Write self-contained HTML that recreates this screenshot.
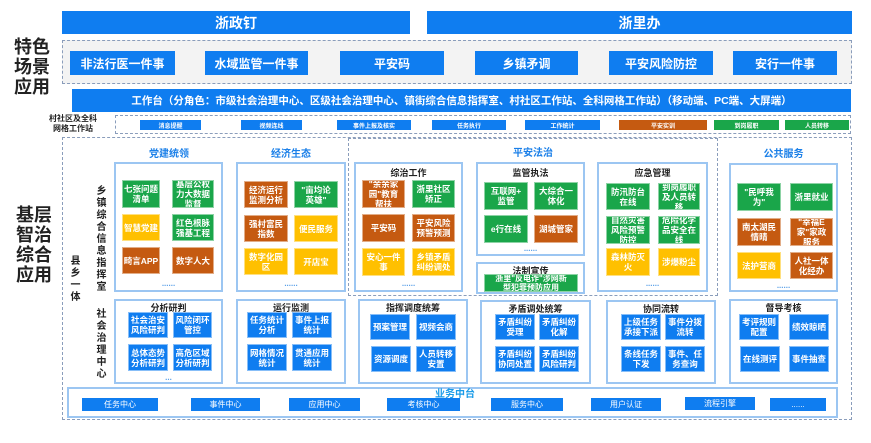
<!DOCTYPE html>
<html><head><meta charset="utf-8">
<style>
*{margin:0;padding:0;box-sizing:border-box}
body{width:871px;height:443px;background:#fff;position:relative;overflow:hidden;font-family:"Liberation Sans","Noto Sans CJK SC",sans-serif;font-weight:bold}
div{position:absolute}
.bl{background:#0f7df0;color:#fff;display:flex;align-items:center;justify-content:center;text-align:center}
.i{color:#fff;display:flex;align-items:center;justify-content:center;text-align:center;font-size:8.5px;line-height:10px;border:1px solid rgba(255,255,255,.5);overflow:hidden}
.g{background:#1aa64a}.y{background:#ffc000}.o{background:#c55a11}.u{background:#0f7df0}
.bx{border:2px solid #9cc6f2;background:#fff}
.t{font-size:9px;color:#222;text-align:center;white-space:nowrap}
.dots{font-size:8px;color:#5aa0e8;text-align:center}
.dash{border:1.5px dashed #8a9dbb}
.vt{writing-mode:vertical-rl;font-size:10px;color:#222;letter-spacing:2px}
.big{font-size:18px;color:#222;line-height:20px;text-align:center;width:44px}
</style></head><body>

<div class="bl" style="left:62px;top:11px;width:348px;height:23px;font-size:14px">浙政钉</div>
<div class="bl" style="left:427px;top:11px;width:425px;height:23px;font-size:14px">浙里办</div>

<div class="big" style="left:10px;top:37px">特色<br>场景<br>应用</div>
<div class="dash" style="left:62px;top:40px;width:790px;height:44px;background:#f3f3f3"></div>
<div class="bl" style="left:70px;top:51px;width:105px;height:24px;font-size:12px">非法行医一件事</div>
<div class="bl" style="left:205px;top:51px;width:103px;height:24px;font-size:12px">水域监管一件事</div>
<div class="bl" style="left:340px;top:51px;width:104px;height:24px;font-size:12px">平安码</div>
<div class="bl" style="left:475px;top:51px;width:103px;height:24px;font-size:12px">乡镇矛调</div>
<div class="bl" style="left:609px;top:51px;width:104px;height:24px;font-size:12px">平安风险防控</div>
<div class="bl" style="left:733px;top:51px;width:104px;height:24px;font-size:12px">安行一件事</div>

<div class="bl" style="left:72px;top:89px;width:779px;height:23px;font-size:10.5px">工作台（分角色：市级社会治理中心、区级社会治理中心、镇街综合信息指挥室、村社区工作站、全科网格工作站）（移动端、PC端、大屏端）</div>

<div class="t" style="left:36px;top:114px;width:74px;font-size:8px;line-height:10px">村社区及全科<br>网格工作站</div>
<div class="dash" style="left:115px;top:115px;width:736px;height:19px"></div>
<div class="bl" style="left:140px;top:120px;width:61px;height:10px;font-size:6px">消息提醒</div>
<div class="bl" style="left:241px;top:120px;width:61px;height:10px;font-size:6px">视频连线</div>
<div class="bl" style="left:337px;top:120px;width:74px;height:10px;font-size:6px">事件上报及核实</div>
<div class="bl" style="left:432px;top:120px;width:74px;height:10px;font-size:6px">任务执行</div>
<div class="bl" style="left:525px;top:120px;width:75px;height:10px;font-size:6px">工作统计</div>
<div class="bl o" style="left:619px;top:120px;width:88px;height:10px;font-size:6px">平安实训</div>
<div class="bl g" style="left:714px;top:120px;width:65px;height:10px;font-size:6px">到岗履职</div>
<div class="bl g" style="left:785px;top:120px;width:64px;height:10px;font-size:6px">人员转移</div>

<div class="dash" style="left:62px;top:137px;width:790px;height:283px"></div>
<div class="big" style="left:12px;top:205px">基层<br>智治<br>综合<br>应用</div>
<div class="vt" style="left:92px;top:185px">乡镇综合信息指挥室</div>
<div class="vt" style="left:66px;top:255px">县乡一体</div>
<div class="vt" style="left:92px;top:308px">社会治理中心</div>

<div class="t" style="left:114px;top:145px;width:110px;color:#1a7fe8;font-size:10px">党建统领</div>
<div class="bx" style="left:114px;top:162px;width:109px;height:130px"></div>
<div class="i g" style="left:122px;top:180px;width:38px;height:28px">七张问题<br>清单</div>
<div class="i g" style="left:172px;top:180px;width:42px;height:28px">基层公权<br>力大数据<br>监督</div>
<div class="i y" style="left:122px;top:214px;width:38px;height:27px">智慧党建</div>
<div class="i g" style="left:172px;top:214px;width:42px;height:27px">红色根脉<br>强基工程</div>
<div class="i o" style="left:122px;top:247px;width:38px;height:27px">畸言APP</div>
<div class="i o" style="left:172px;top:247px;width:42px;height:27px">数字人大</div>
<div class="dots" style="left:114px;top:279px;width:109px">......</div>

<div class="t" style="left:236px;top:145px;width:110px;color:#1a7fe8;font-size:10px">经济生态</div>
<div class="bx" style="left:236px;top:162px;width:110px;height:130px"></div>
<div class="i o" style="left:244px;top:181px;width:44px;height:27px">经济运行<br>监测分析</div>
<div class="i g" style="left:294px;top:181px;width:44px;height:27px">"亩均论<br>英雄"</div>
<div class="i o" style="left:244px;top:215px;width:44px;height:27px">强村富民<br>指数</div>
<div class="i y" style="left:294px;top:215px;width:44px;height:27px">便民服务</div>
<div class="i y" style="left:244px;top:248px;width:44px;height:27px">数字化园<br>区</div>
<div class="i y" style="left:294px;top:248px;width:44px;height:27px">开店宝</div>
<div class="dots" style="left:236px;top:279px;width:110px">......</div>

<div class="dash" style="left:348px;top:138px;width:370px;height:158px"></div>
<div class="t" style="left:348px;top:144px;width:370px;color:#1a7fe8;font-size:10px">平安法治</div>
<div class="bx" style="left:354px;top:162px;width:109px;height:130px"></div>
<div class="t" style="left:354px;top:166px;width:109px">综治工作</div>
<div class="i o" style="left:362px;top:180px;width:43px;height:28px">"余余家<br>园"教育<br>帮扶</div>
<div class="i g" style="left:412px;top:180px;width:43px;height:28px">浙里社区<br>矫正</div>
<div class="i o" style="left:362px;top:214px;width:43px;height:28px">平安码</div>
<div class="i o" style="left:412px;top:214px;width:43px;height:28px">平安风险<br>预警预测</div>
<div class="i y" style="left:362px;top:248px;width:43px;height:28px">安心一件<br>事</div>
<div class="i y" style="left:412px;top:248px;width:43px;height:28px">乡镇矛盾<br>纠纷调处</div>
<div class="dots" style="left:354px;top:279px;width:109px">......</div>

<div class="bx" style="left:476px;top:162px;width:109px;height:94px"></div>
<div class="t" style="left:476px;top:166px;width:109px">监管执法</div>
<div class="i g" style="left:484px;top:182px;width:44px;height:28px">互联网+<br>监管</div>
<div class="i g" style="left:534px;top:182px;width:44px;height:28px">大综合一<br>体化</div>
<div class="i g" style="left:484px;top:215px;width:44px;height:28px">e行在线</div>
<div class="i o" style="left:534px;top:215px;width:44px;height:28px">湖城管家</div>
<div class="dots" style="left:476px;top:244px;width:109px">......</div>

<div class="bx" style="left:476px;top:262px;width:109px;height:32px"></div>
<div class="t" style="left:476px;top:264px;width:109px">法制宣传</div>
<div class="i g" style="left:484px;top:274px;width:94px;height:18px;font-size:8px;line-height:9px">浙里"反电诈"涉网新<br>型犯罪预防应用</div>

<div class="bx" style="left:597px;top:162px;width:111px;height:130px"></div>
<div class="t" style="left:597px;top:166px;width:111px">应急管理</div>
<div class="i g" style="left:606px;top:183px;width:44px;height:27px">防汛防台<br>在线</div>
<div class="i g" style="left:658px;top:183px;width:42px;height:27px">到岗履职<br>及人员转<br>移</div>
<div class="i g" style="left:606px;top:216px;width:44px;height:28px">自然灾害<br>风险预警<br>防控</div>
<div class="i g" style="left:658px;top:216px;width:42px;height:28px">危险化学<br>品安全在<br>线</div>
<div class="i y" style="left:606px;top:248px;width:44px;height:28px">森林防灭<br>火</div>
<div class="i y" style="left:658px;top:248px;width:42px;height:28px">涉爆粉尘</div>
<div class="dots" style="left:597px;top:279px;width:111px">......</div>

<div class="t" style="left:729px;top:145px;width:109px;color:#1a7fe8;font-size:10px">公共服务</div>
<div class="bx" style="left:729px;top:163px;width:109px;height:129px"></div>
<div class="i g" style="left:737px;top:183px;width:44px;height:28px">"民呼我<br>为"</div>
<div class="i g" style="left:790px;top:183px;width:43px;height:28px">浙里就业</div>
<div class="i o" style="left:737px;top:218px;width:44px;height:28px">南太湖民<br>情晴</div>
<div class="i o" style="left:790px;top:218px;width:43px;height:28px">"幸福E<br>家"家政<br>服务</div>
<div class="i y" style="left:737px;top:252px;width:44px;height:27px">法护营商</div>
<div class="i o" style="left:790px;top:252px;width:43px;height:27px">人社一体<br>化经办</div>
<div class="dots" style="left:729px;top:281px;width:109px">......</div>

<div class="bx" style="left:114px;top:299px;width:109px;height:85px"></div>
<div class="t" style="left:114px;top:301px;width:109px">分析研判</div>
<div class="i u" style="left:128px;top:312px;width:40px;height:26px">社会治安<br>风险研判</div>
<div class="i u" style="left:173px;top:312px;width:39px;height:26px">风险闭环<br>管控</div>
<div class="i u" style="left:128px;top:344px;width:40px;height:27px">总体态势<br>分析研判</div>
<div class="i u" style="left:173px;top:344px;width:39px;height:27px">高危区域<br>分析研判</div>
<div class="dots" style="left:114px;top:373px;width:109px">...</div>

<div class="bx" style="left:236px;top:299px;width:110px;height:85px"></div>
<div class="t" style="left:236px;top:301px;width:110px">运行监测</div>
<div class="i u" style="left:247px;top:312px;width:40px;height:26px">任务统计<br>分析</div>
<div class="i u" style="left:292px;top:312px;width:40px;height:26px">事件上报<br>统计</div>
<div class="i u" style="left:247px;top:344px;width:40px;height:27px">网格情况<br>统计</div>
<div class="i u" style="left:292px;top:344px;width:40px;height:27px">贯通应用<br>统计</div>

<div class="bx" style="left:358px;top:299px;width:110px;height:85px"></div>
<div class="t" style="left:358px;top:301px;width:110px">指挥调度统筹</div>
<div class="i u" style="left:370px;top:314px;width:40px;height:26px">预案管理</div>
<div class="i u" style="left:416px;top:314px;width:40px;height:26px">视频会商</div>
<div class="i u" style="left:371px;top:346px;width:40px;height:26px">资源调度</div>
<div class="i u" style="left:416px;top:346px;width:40px;height:26px">人员转移<br>安置</div>

<div class="bx" style="left:480px;top:300px;width:111px;height:84px"></div>
<div class="t" style="left:480px;top:302px;width:111px">矛盾调处统筹</div>
<div class="i u" style="left:495px;top:314px;width:40px;height:26px">矛盾纠纷<br>受理</div>
<div class="i u" style="left:539px;top:314px;width:40px;height:26px">矛盾纠纷<br>化解</div>
<div class="i u" style="left:495px;top:346px;width:40px;height:26px">矛盾纠纷<br>协同处置</div>
<div class="i u" style="left:539px;top:346px;width:40px;height:26px">矛盾纠纷<br>风险研判</div>

<div class="bx" style="left:606px;top:300px;width:110px;height:84px"></div>
<div class="t" style="left:606px;top:302px;width:110px">协同流转</div>
<div class="i u" style="left:621px;top:314px;width:40px;height:26px">上级任务<br>承接下派</div>
<div class="i u" style="left:665px;top:314px;width:40px;height:26px">事件分拨<br>流转</div>
<div class="i u" style="left:621px;top:346px;width:40px;height:26px">条线任务<br>下发</div>
<div class="i u" style="left:665px;top:346px;width:40px;height:26px">事件、任<br>务查询</div>

<div class="bx" style="left:729px;top:299px;width:109px;height:85px"></div>
<div class="t" style="left:729px;top:301px;width:109px">督导考核</div>
<div class="i u" style="left:739px;top:314px;width:40px;height:26px">考评规则<br>配置</div>
<div class="i u" style="left:789px;top:314px;width:40px;height:26px">绩效晾晒</div>
<div class="i u" style="left:740px;top:346px;width:40px;height:26px">在线测评</div>
<div class="i u" style="left:789px;top:346px;width:40px;height:26px">事件抽查</div>

<div class="bx" style="left:67px;top:387px;width:771px;height:31px"></div>
<div class="t" style="left:425px;top:385px;width:60px;color:#1a9be8;font-size:10px">业务中台</div>
<div class="bl" style="left:82px;top:398px;width:76px;height:13px;font-size:8px;font-weight:normal">任务中心</div>
<div class="bl" style="left:191px;top:398px;width:69px;height:13px;font-size:8px;font-weight:normal">事件中心</div>
<div class="bl" style="left:289px;top:398px;width:71px;height:13px;font-size:8px;font-weight:normal">应用中心</div>
<div class="bl" style="left:387px;top:398px;width:73px;height:13px;font-size:8px;font-weight:normal">考核中心</div>
<div class="bl" style="left:491px;top:398px;width:72px;height:13px;font-size:8px;font-weight:normal">服务中心</div>
<div class="bl" style="left:591px;top:398px;width:70px;height:13px;font-size:8px;font-weight:normal">用户认证</div>
<div class="bl" style="left:685px;top:397px;width:70px;height:13px;font-size:8px;font-weight:normal">流程引擎</div>
<div class="bl" style="left:770px;top:398px;width:56px;height:13px;font-size:8px;font-weight:normal">......</div>
</body></html>
